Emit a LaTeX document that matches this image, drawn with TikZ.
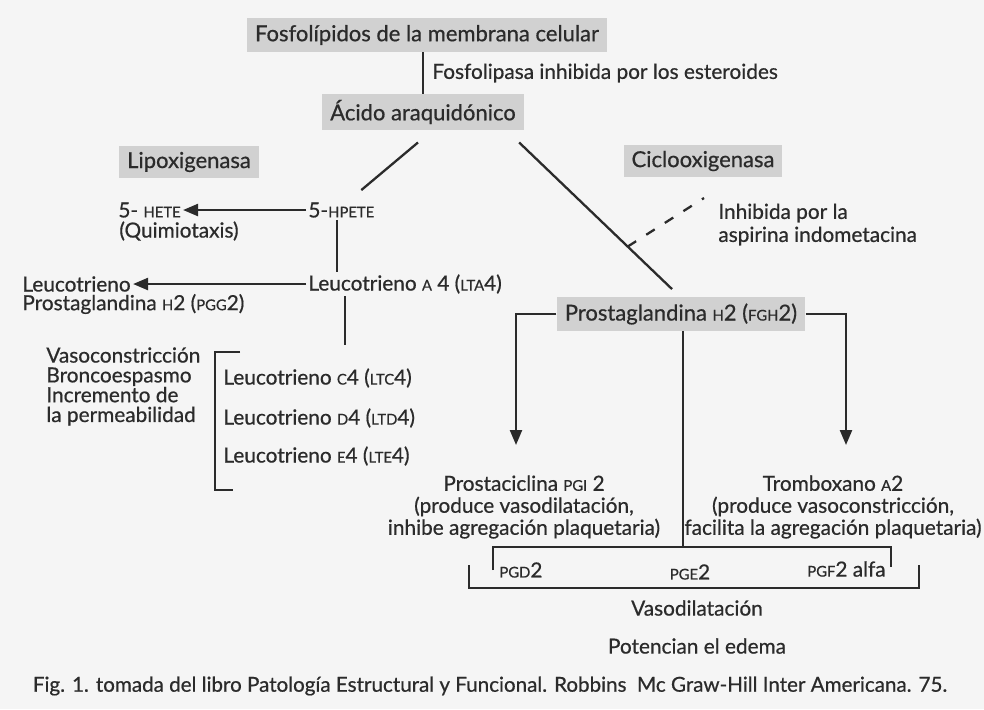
\documentclass[tikz,border=0pt]{standalone}
\usepackage{fontspec}
\setmainfont{Lato}[FakeBold=0.6]
\usetikzlibrary{arrows.meta,positioning}
\definecolor{boxgray}{gray}{0.82}
\definecolor{ink}{gray}{0.17}
\definecolor{paper}{gray}{0.96}
\tikzset{
  every picture/.style={x=0.5pt, y=-0.5pt},
  box/.style={fill=boxgray, inner xsep=4pt, inner ysep=3pt, text=ink, font=\fontsize{11}{12}\selectfont},
  txt/.style={inner sep=1pt, text=ink, font=\fontsize{10.4}{11}\selectfont},
  link/.style={draw=ink, line width=1.15pt},
  arr/.style={link, -{Triangle[length=7.5pt, width=6pt]}},
  blocked/.style={link, dash pattern=on 5pt off 6pt},
}
\newcommand{\sca}[1]{{\fontsize{7.4pt}{8pt}\selectfont #1}}

\begin{document}
\begin{tikzpicture}
  \fill[paper] (0,0) rectangle (984,709);
  \useasboundingbox (0,0) rectangle (984,709);

  % top of the cascade
  \node[box, minimum width=179pt, minimum height=17pt] (fosfo) at (427,35) {Fosfolípidos de la membrana celular};
  \node[box, minimum width=95pt, minimum height=16.5pt] (acido) at (423,112) {Ácido araquidónico};
  \node[txt, anchor=west] (fosfolipasa) at (430,73) {Fosfolipasa inhibida por los esteroides};
  \draw[link] (acido.north) -- (acido.north |- fosfo.south);

  \node[box, minimum width=63pt, minimum height=16pt] (lipox) at (189,162) {Lipoxigenasa};
  \node[box, minimum width=73pt, minimum height=16pt] (ciclo) at (703,161) {Ciclooxigenasa};

  % lipoxigenasa branch
  \node[txt, anchor=west] (hpete) at (306,210) {5-\sca{HPETE}};
  \node[txt, anchor=west] (hete) at (116,210) {5- \sca{HETE}};
  \node[txt, anchor=west] (quimio) at (117,231) {(Quimiotaxis)};
  \node[txt, anchor=west] (lta) at (306,284) {Leucotrieno \sca{A} 4 (\sca{LTA}4)};
  \node[txt, anchor=west] (leuco) at (20,284) {Leucotrieno};
  \node[txt, anchor=west] (pgg) at (20,304) {Prostaglandina \sca{H}2 (\sca{PGG}2)};
  \node[txt, anchor=north west, align=left, font=\fontsize{10.4}{9.9}\selectfont] (efectos) at (44,345) {Vasoconstricción\\Broncoespasmo\\Incremento de\\la permeabilidad};
  \node[txt, anchor=west] (ltc) at (221,378) {Leucotrieno \sca{C}4 (\sca{LTC}4)};
  \node[txt, anchor=west] (ltd) at (221,418) {Leucotrieno \sca{D}4 (\sca{LTD}4)};
  \node[txt, anchor=west] (lte) at (221,456) {Leucotrieno \sca{E}4 (\sca{LTE}4)};
  \coordinate (ltaend) at (345,345);

  \draw[link] ([shift={(-5,12)}]acido.south) -- ([shift={(20,-10)}]hpete.north);
  \draw[arr] (hpete.west) -- (hete.east);
  \draw[link] ([xshift=-2pt]hpete.south) -- ([xshift=-2pt]hpete.south |- lta.north);
  \draw[arr] (lta.west) -- (leuco.east);
  \draw[link] (ltaend |- lta.south) -- (ltaend);
  \draw[link] (240,352) -| (215,490) -- (233,490);

  % ciclooxigenasa branch
  \node[box, minimum width=119pt, minimum height=16pt] (pgh) at (681,314) {Prostaglandina \sca{H}2 (\sca{FGH}2)};
  \node[txt, anchor=west] (inhib) at (716,213) {Inhibida por la};
  \node[txt, anchor=west] (aspirina) at (716,236) {aspirina indometacina};
  \draw[link] ([shift={(-5,12)}]acido.south east) -- coordinate[pos=0.71] (block) ([shift={(-9,-8)}]pgh.north);
  \coordinate (dashend) at (704,198);
  \draw[blocked] (block) -- (dashend);

  \node[txt, align=center] (pgi) at (524,507) {Prostaciclina \sca{PGI} 2\\(produce vasodilatación,\\inhibe agregación plaquetaria)};
  \node[txt, align=center] (tx) at (833,507) {Tromboxano \sca{A}2\\(produce vasoconstricción,\\facilita la agregación plaquetaria)};
  \coordinate (pgiin) at (516,445);
  \coordinate (txin) at (846,445);
  \draw[arr] (pgh.west) -| (pgiin);
  \draw[arr] (pgh.east) -| (txin);

  \coordinate (bar) at (683,547);
  \draw[link] (bar |- pgh.south) -- (bar);
  \draw[link] (493,570) |- (891,547) -- (891,567);
  \draw[link] (469,565) |- (919,588) -- (919,565);

  \node[txt, anchor=west] (pgd) at (497,570) {\sca{PGD}2};
  \node[txt] (pge) at (690,572) {\sca{PGE}2};
  \node[txt, anchor=east] (pgf) at (888,569) {\sca{PGF}2 alfa};
  \node[txt] (vaso) at (697,608) {Vasodilatación};
  \node[txt] (edema) at (697,646) {Potencian el edema};

  \node[txt, font=\fontsize{10.3}{11}\selectfont] (caption) at (490,686) {Fig. 1. tomada del libro Patología Estructural y Funcional. Robbins\ \ Mc Graw-Hill Inter Americana. 75.};
\end{tikzpicture}
\end{document}
